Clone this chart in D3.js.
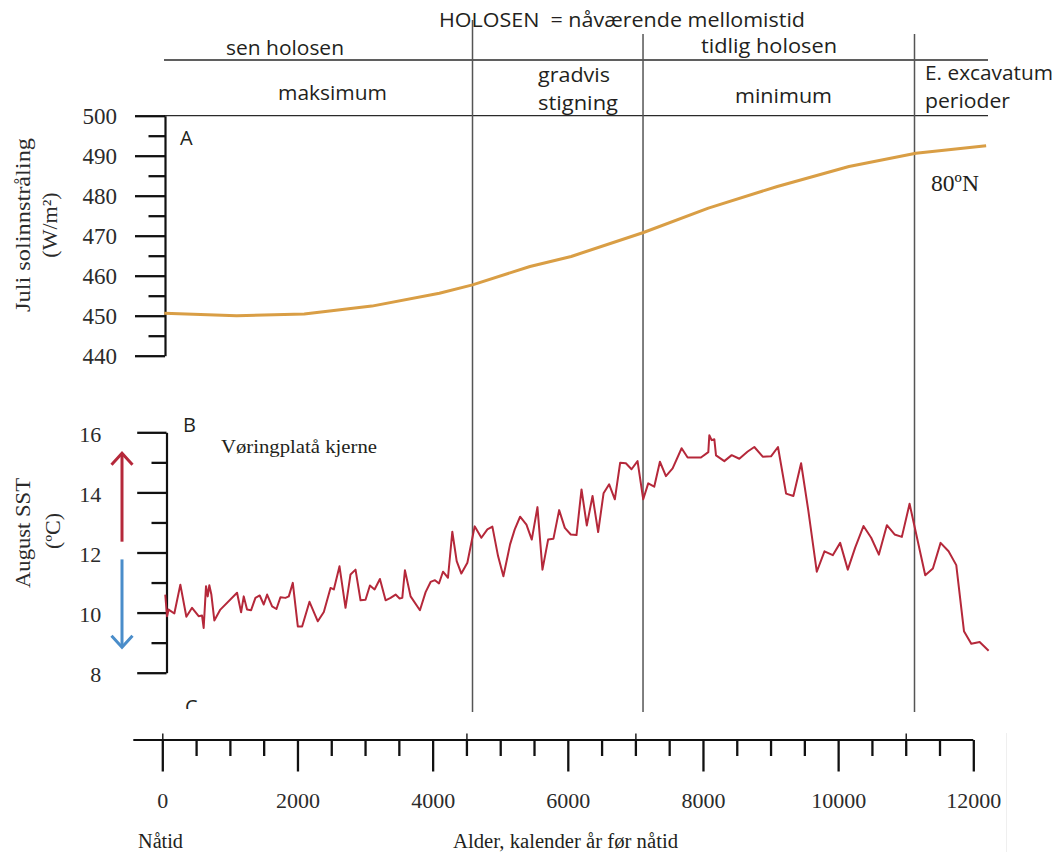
<!DOCTYPE html>
<html>
<head>
<meta charset="utf-8">
<script src="https://cdn.jsdelivr.net/npm/d3@7"></script>
<style>
  body { margin: 0; background: #fff; }
  svg { display: block; }
  text { white-space: pre; }
</style>
</head>
<body>
<svg id="chart" width="1055" height="852"></svg>
<script>
// ---- Data --------------------------------------------------------------

// July insolation at 80°N (W/m²), years before present
const insolYears  = [30, 1100, 2100, 3100, 4100, 4590, 5440, 6050, 7120, 8080, 9100, 10160, 11150, 12190];
const insolValues = [450.6, 450.0, 450.4, 452.4, 455.6, 457.7, 462.3, 464.8, 470.8, 476.9, 482.3, 487.3, 490.6, 492.5];

// August SST, Vøring Plateau core (°C), years before present
const sstYears = [
  44, 70, 94, 178, 267, 356, 440, 538, 588, 612, 647, 672, 696, 726, 770, 859,
  1106, 1166, 1205, 1254, 1314, 1378, 1442, 1501, 1551, 1625, 1689, 1748, 1822, 1872, 1931,
  2005, 2069, 2178, 2301, 2390, 2489, 2538, 2622, 2711, 2785, 2859, 2933,
  3007, 3072, 3141, 3220, 3304, 3378, 3452, 3511, 3551, 3590, 3674, 3812, 3896, 3970,
  4035, 4094, 4153, 4227, 4291, 4356, 4425, 4514, 4622, 4721, 4810, 4884, 4968,
  5047, 5146, 5215, 5294, 5388, 5467, 5551, 5625, 5709, 5788, 5872, 5956,
  6044, 6129, 6203, 6281, 6366, 6449, 6529, 6612, 6696, 6775, 6859, 6943,
  7032, 7116, 7190, 7279, 7363, 7452, 7551, 7684, 7773, 7970,
  8079, 8094, 8128, 8168, 8193, 8316, 8425, 8538, 8662, 8760, 8884,
  9007, 9110, 9230, 9338, 9452, 9560, 9684, 9798, 9921,
  10030, 10143, 10252, 10375, 10489, 10603, 10721, 10835, 10943,
  11057, 11289, 11402, 11516, 11634, 11748, 11862, 11970, 12094, 12227
];
const sstValues = [
  10.6, 9.88, 10.1, 9.97, 10.93, 9.86, 10.16, 9.88, 9.9, 9.49, 10.88, 10.54, 10.91, 10.6, 9.74, 10.1,
  10.66, 10.01, 10.54, 10.1, 10.08, 10.49, 10.57, 10.27, 10.6, 10.21, 10.12, 10.51, 10.49, 10.54, 10.99,
  9.54, 9.54, 10.36, 9.71, 10.02, 10.82, 10.77, 11.54, 10.16, 11.27, 11.43, 10.41,
  10.43, 10.9, 10.77, 11.12, 10.41, 10.49, 10.6, 10.47, 10.49, 11.41, 10.54, 10.08, 10.68, 11.02,
  11.08, 10.97, 11.36, 11.16, 12.69, 11.71, 11.3, 11.66, 12.87, 12.49, 12.77, 12.86, 11.88,
  11.21, 12.27, 12.77, 13.19, 12.93, 12.43, 13.51, 11.43, 12.43, 12.46, 13.41, 12.82,
  12.6, 12.58, 14.1, 12.9, 13.88, 12.68, 13.97, 14.27, 13.77, 14.99, 14.97, 14.77,
  15.04, 13.77, 14.3, 14.19, 15.02, 14.54, 14.8, 15.47, 15.16, 15.16,
  15.34, 15.9, 15.74, 15.77, 15.23, 15.04, 15.24, 15.12, 15.36, 15.51, 15.19,
  15.2, 15.51, 13.96, 13.88, 14.97, 13.38, 11.36, 12.04, 11.91,
  12.32, 11.43, 12.16, 12.88, 12.49, 11.93, 12.91, 12.6, 12.52,
  13.62, 11.24, 11.47, 12.32, 12.04, 11.58, 9.38, 8.96, 9.02, 8.73
];

// Axis ticks
const insolTicks = [440, 450, 460, 470, 480, 490, 500];
const insolMinor = [445, 455, 465, 475, 485, 495];
const sstTicks   = [8, 10, 12, 14, 16];
const sstMinor   = [9, 11, 13, 15];
const ageTicks   = [0, 2000, 4000, 6000, 8000, 10000, 12000];
const ageMinor   = [500, 1000, 1500, 2500, 3000, 3500, 4500, 5000, 5500, 6500, 7000, 7500,
                    8500, 9000, 9500, 10500, 11000, 11500];

// Period boundaries (years BP) and their marks on the age axis
const boundaryYears = [4590, 7113, 11130];
const stageMarks    = [0, 4500, 7000, 11000];

// Warmer / colder indicators on the SST axis (°C)
const sstArrows = [
  { from: 12.36, to: 15.3, color: "#b5283a" },
  { from: 11.77, to: 8.85, color: "#4a8dca" }
];

// ---- Drawing -----------------------------------------------------------

const svg = d3.select("#chart");
svg.append("rect").attr("width", 1055).attr("height", 852).attr("fill", "#fff");

const SANS  = "'Open Sans', 'Noto Sans', sans-serif";
const SERIF = "'Liberation Serif', 'DejaVu Serif', serif";
const INK = "#231f20";

const xAge = d3.scaleLinear().domain([0, 12000]).range([162.3, 973.3]);
const yA   = d3.scaleLinear().domain([440, 500]).range([355.7, 115.7]);
const yB   = d3.scaleLinear().domain([8, 16]).range([672.7, 432.3]);

// Header frame lines
const headerLines = [60, yA(500)];
svg.append("g").selectAll("line").data(headerLines).join("line")
  .attr("x1", 164).attr("x2", 988)
  .attr("y1", d => d).attr("y2", d => d)
  .attr("stroke", "#2a2a2a").attr("stroke-width", 1.3);

// Vertical period boundaries
svg.append("g").selectAll("line").data(boundaryYears).join("line")
  .attr("x1", d => xAge(d)).attr("x2", d => xAge(d))
  .attr("y1", (d, i) => i === 0 ? 20 : 34).attr("y2", 712)
  .attr("stroke", "#555").attr("stroke-width", 1.5);

// Header text
function label(txt, x, y, opts = {}) {
  const t = svg.append("text")
    .attr("x", x).attr("y", y)
    .attr("font-family", opts.family || SANS)
    .attr("font-size", opts.size || 20)
    .attr("fill", opts.fill || INK)
    .attr("text-anchor", opts.anchor || "start")
    .text(txt);
  if (opts.len) t.attr("textLength", opts.len).attr("lengthAdjust", "spacingAndGlyphs");
  return t;
}
label("HOLOSEN  = nåværende mellomistid", 439, 27, { len: 366 });
label("sen holosen", 226, 55, { len: 118 });
label("tidlig holosen", 701, 53, { len: 136 });
label("maksimum", 278, 100, { len: 109 });
label("gradvis", 538, 82, { len: 72 });
label("stigning", 538, 110, { len: 80 });
label("minimum", 735, 103, { len: 97 });
label("E. excavatum", 925, 80, { len: 128 });
label("perioder", 925, 108, { len: 85 });

// Panel A: July insolation
function styleAxis(g, size) {
  g.attr("font-family", SERIF).attr("font-size", size);
  g.selectAll("path.domain").attr("stroke", "#111").attr("stroke-width", 2.2);
  g.selectAll(".tick line").attr("stroke", "#111").attr("stroke-width", 2.3);
  g.selectAll(".tick text").attr("fill", "#2b2b2b");
}

const axA = svg.append("g").attr("transform", "translate(165,0)")
  .call(d3.axisLeft(yA).tickValues(insolTicks).tickSize(30).tickPadding(18).tickSizeOuter(0));
styleAxis(axA, 23);
const axAm = svg.append("g").attr("transform", "translate(165,0)")
  .call(d3.axisLeft(yA).tickValues(insolMinor).tickSize(16.5).tickFormat(""));
axAm.select("path.domain").remove();
styleAxis(axAm, 23);

svg.append("path")
  .datum(insolYears.map((y, i) => [y, insolValues[i]]))
  .attr("fill", "none").attr("stroke", "#d99e45").attr("stroke-width", 3)
  .attr("stroke-linejoin", "round")
  .attr("d", d3.line().x(d => xAge(d[0])).y(d => yA(d[1])));

label("A", 180, 145, { size: 20 });
label("80ºN", 931, 191, { family: SERIF, size: 23, len: 48 });

const yLabA = svg.append("g").attr("font-family", SERIF).attr("fill", "#2b2b2b").attr("font-size", 22);
yLabA.append("text").attr("transform", "translate(30,225) rotate(-90)")
  .attr("text-anchor", "middle").attr("textLength", 174).attr("lengthAdjust", "spacingAndGlyphs")
  .text("Juli solinnstråling");
yLabA.append("text").attr("transform", "translate(57,225) rotate(-90)")
  .attr("text-anchor", "middle").text("(W/m²)");

// Panel B: August SST
const axB = svg.append("g").attr("transform", "translate(166.5,0)")
  .call(d3.axisLeft(yB).tickValues(sstTicks).tickSize(29.3).tickPadding(36).tickSizeOuter(0));
styleAxis(axB, 22);
axB.selectAll(".tick text").attr("dy", "0.42em");
const axBm = svg.append("g").attr("transform", "translate(166.5,0)")
  .call(d3.axisLeft(yB).tickValues(sstMinor).tickSize(15).tickFormat(""));
axBm.select("path.domain").remove();
styleAxis(axBm, 22);

svg.append("path")
  .datum(sstYears.map((y, i) => [y, sstValues[i]]))
  .attr("fill", "none").attr("stroke", "#b5283a").attr("stroke-width", 2)
  .attr("stroke-linejoin", "round")
  .attr("d", d3.line().x(d => xAge(d[0])).y(d => yB(d[1])));

// Warm / cold arrows
const arrowX = 122;
const arrows = svg.append("g").attr("fill", "none").attr("stroke-width", 3);
sstArrows.forEach(a => {
  const y0 = yB(a.from), y1 = yB(a.to);
  const dir = y1 < y0 ? 1 : -1;
  arrows.append("line").attr("x1", arrowX).attr("x2", arrowX)
    .attr("y1", y0).attr("y2", y1 + dir * 1).attr("stroke", a.color);
  arrows.append("path")
    .attr("d", `M${arrowX - 10.5},${y1 + dir * 11.5}L${arrowX},${y1}L${arrowX + 10.5},${y1 + dir * 11.5}`)
    .attr("stroke", a.color);
});

label("B", 183, 432, { size: 20 });
label("Vøringplatå kjerne", 221, 453, { family: SERIF, size: 19, len: 156 });

// Partially hidden panel letter for the next panel
svg.append("clipPath").attr("id", "cClip")
  .append("rect").attr("x", 0).attr("y", 0).attr("width", 1055).attr("height", 709);
label("C", 185, 714, { size: 20 }).attr("clip-path", "url(#cClip)");

const yLabB = svg.append("g").attr("font-family", SERIF).attr("fill", "#2b2b2b").attr("font-size", 22);
yLabB.append("text").attr("transform", "translate(30,533) rotate(-90)")
  .attr("text-anchor", "middle").attr("textLength", 110).attr("lengthAdjust", "spacingAndGlyphs")
  .text("August SST");
yLabB.append("text").attr("transform", "translate(60,531) rotate(-90)")
  .attr("text-anchor", "middle").text("(ºC)");

// Age axis
const axisY = 740;
svg.append("line").attr("x1", 133.3).attr("x2", xAge(12000))
  .attr("y1", axisY).attr("y2", axisY).attr("stroke", "#111").attr("stroke-width", 2.2);

const axX = svg.append("g").attr("transform", `translate(0,${axisY})`)
  .call(d3.axisBottom(xAge).tickValues(ageTicks).tickSize(31.5).tickPadding(21)
    .tickSizeOuter(0).tickFormat(d3.format("d")));
axX.select("path.domain").remove();
styleAxis(axX, 22);
const axXm = svg.append("g").attr("transform", `translate(0,${axisY})`)
  .call(d3.axisBottom(xAge).tickValues(ageMinor).tickSize(16).tickFormat(""));
axXm.select("path.domain").remove();
styleAxis(axXm, 22);
const axXs = svg.append("g").attr("transform", `translate(0,${axisY})`)
  .call(d3.axisTop(xAge).tickValues(stageMarks).tickSize(6.5).tickFormat(""));
axXs.select("path.domain").remove();
styleAxis(axXs, 22);
axXs.selectAll(".tick line").attr("stroke-width", 1.4);

label("Nåtid", 138, 848, { family: SERIF, size: 20, len: 45 });
label("Alder, kalender år før nåtid", 453, 848, { family: SERIF, size: 20, len: 225 });

// faint frame edge at the lower right
svg.append("line").attr("x1", 1006.5).attr("x2", 1006.5).attr("y1", 733).attr("y2", 852)
  .attr("stroke", "#efefef").attr("stroke-width", 1);
</script>
</body>
</html>
